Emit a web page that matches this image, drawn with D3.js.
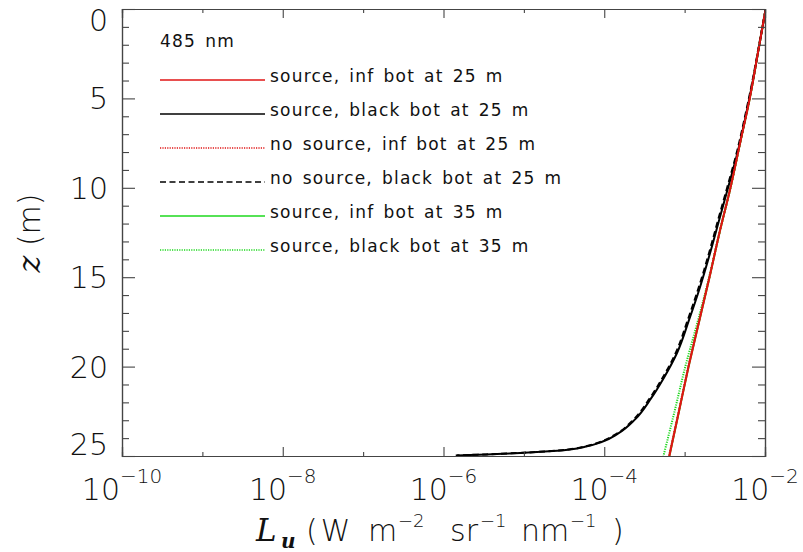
<!DOCTYPE html>
<html>
<head>
<meta charset="utf-8">
<script src="https://cdn.jsdelivr.net/npm/d3@7"></script>
<style>
  body { margin: 0; background: #fff; }
  svg { display: block; }
  .thin { font-family: "DejaVu Sans ExtraLight", "DejaVu Sans", sans-serif; font-weight: 200; fill: #111; }
</style>
</head>
<body>
<svg id="chart" width="803" height="552"></svg>
<script>
// Upwelling radiance profiles at 485 nm (depth in m, Lu in W m^-2 sr^-1 nm^-1)
const depthA = [0, 2.5, 5, 7.5, 10, 12.5, 15, 17.5, 20, 22.5, 25];
const srcInf25   = [1.02e-2, 8.13e-3, 6.46e-3, 4.90e-3, 3.72e-3, 2.72e-3, 2.04e-3, 1.51e-3, 1.12e-3, 8.51e-4, 6.46e-4];
const noSrcInf25 = [1.02e-2, 8.12e-3, 6.45e-3, 4.89e-3, 3.71e-3, 2.71e-3, 2.03e-3, 1.50e-3, 1.11e-3, 8.45e-4, 6.40e-4];
const srcInf35   = [1.02e-2, 8.13e-3, 6.46e-3, 4.90e-3, 3.72e-3, 2.72e-3, 2.04e-3, 1.51e-3, 1.12e-3, 8.51e-4, 6.46e-4];
const srcBlack35 = [1.02e-2, 8.13e-3, 6.46e-3, 4.90e-3, 3.72e-3, 2.72e-3, 2.02e-3, 1.45e-3, 1.02e-3, 7.50e-4, 5.45e-4];

const depthB = [0, 2, 4, 6, 8, 10, 11.8, 13.66, 15.53, 17.39, 19.24, 20.62, 21.78, 22.95, 23.75, 24.22,
                24.46, 24.63, 24.72, 24.78, 24.83, 24.87, 24.91, 24.94, 24.97];
const srcBlack25   = [1.02e-2, 8.51e-3, 7.08e-3, 5.75e-3, 4.57e-3, 3.47e-3, 2.69e-3, 2.07e-3, 1.56e-3, 1.135e-3,
                      8.04e-4, 5.53e-4, 3.82e-4, 2.42e-4, 1.48e-4, 9.25e-5, 6.10e-5, 3.75e-5, 2.30e-5, 1.46e-5,
                      8.95e-6, 5.50e-6, 3.48e-6, 2.14e-6, 1.47e-6];
const noSrcBlack25 = [1.02e-2, 8.45e-3, 7.00e-3, 5.65e-3, 4.47e-3, 3.38e-3, 2.61e-3, 2.01e-3, 1.51e-3, 1.095e-3,
                      7.75e-4, 5.33e-4, 3.68e-4, 2.33e-4, 1.43e-4, 8.90e-5, 5.90e-5, 3.62e-5, 2.22e-5, 1.41e-5,
                      8.65e-6, 5.32e-6, 3.37e-6, 2.07e-6, 1.42e-6];

const decadeTicks = [1e-10, 1e-9, 1e-8, 1e-7, 1e-6, 1e-5, 1e-4, 1e-3, 1e-2];
const labeledExponents = [-10, -8, -6, -4, -2];
const depthMajorTicks = [0, 5, 10, 15, 20, 25];
const depthMinorTicks = d3.range(0, 26).filter(d => d % 5 !== 0);

const wavelengthLabel = "485 nm";
const seriesLabels = [
  "source, inf bot at 25 m",
  "source, black bot at 25 m",
  "no source, inf bot at 25 m",
  "no source, black bot at 25 m",
  "source, inf bot at 35 m",
  "source, black bot at 35 m"
];

const RED = "#e01414", BLACK = "#000", GREEN = "#1ed81e";
const series = [
  { label: seriesLabels[0], depth: depthA, value: srcInf25,     color: RED,   dash: null },
  { label: seriesLabels[1], depth: depthB, value: srcBlack25,   color: BLACK, dash: null },
  { label: seriesLabels[2], depth: depthA, value: noSrcInf25,   color: RED,   dash: "1.2,1.2" },
  { label: seriesLabels[3], depth: depthB, value: noSrcBlack25, color: BLACK, dash: "6,3.5" },
  { label: seriesLabels[4], depth: depthA, value: srcInf35,     color: GREEN, dash: null },
  { label: seriesLabels[5], depth: depthA, value: srcBlack35,   color: GREEN, dash: "1.2,1.2" }
];

const plot = { left: 122, right: 765, top: 9, bottom: 456 };
const svg = d3.select("#chart");

const x = d3.scaleLog().domain([1e-10, 1e-2]).range([plot.left, plot.right]);
const y = d3.scaleLinear().domain([0, 25]).range([plot.top, plot.bottom]);

svg.append("defs").append("clipPath").attr("id", "plot-clip")
  .append("rect")
  .attr("x", plot.left).attr("y", plot.top)
  .attr("width", plot.right - plot.left).attr("height", plot.bottom - plot.top);

// Profiles: green ones first so the red and black ones lie on top
const drawOrder = [4, 5, 1, 3, 0, 2];
const line = d3.line().curve(d3.curveMonotoneY);
const curves = svg.append("g").attr("clip-path", "url(#plot-clip)");
drawOrder.forEach(i => {
  const s = series[i];
  const pts = s.depth.map((d, k) => [x(s.value[k]), y(d)]);
  curves.append("path")
    .attr("d", line(pts))
    .attr("fill", "none")
    .attr("stroke", s.color)
    .attr("stroke-width", 2)
    .attr("stroke-linejoin", "round")
    .attr("stroke-dasharray", s.dash);
});

// Frame with inward ticks on all four sides
const axisColor = "#444";
function styleAxis(g) {
  g.selectAll(".domain").attr("stroke", axisColor).attr("stroke-width", 1.2);
  g.selectAll(".tick line").attr("stroke", axisColor).attr("stroke-width", 1.1);
  g.selectAll(".tick text").remove();
}
const majorX = decadeTicks.filter(t => Math.round(Math.log10(t)) % 2 === 0);
const minorX = decadeTicks.filter(t => Math.round(Math.log10(t)) % 2 !== 0);

[[d3.axisBottom, plot.bottom], [d3.axisTop, plot.top]].forEach(([ax, pos]) => {
  svg.append("g").attr("transform", `translate(0,${pos})`)
    .call(ax(x).tickValues(majorX).tickSize(-9).tickFormat(""))
    .call(styleAxis);
  svg.append("g").attr("transform", `translate(0,${pos})`)
    .call(ax(x).tickValues(minorX).tickSize(-4).tickFormat(""))
    .call(styleAxis);
});
[[d3.axisLeft, plot.left], [d3.axisRight, plot.right]].forEach(([ax, pos]) => {
  svg.append("g").attr("transform", `translate(${pos},0)`)
    .call(ax(y).tickValues(depthMajorTicks).tickSize(-13).tickFormat(""))
    .call(styleAxis);
  svg.append("g").attr("transform", `translate(${pos},0)`)
    .call(ax(y).tickValues(depthMinorTicks).tickSize(-7).tickFormat(""))
    .call(styleAxis);
});

// X tick labels: powers of ten
labeledExponents.forEach(e => {
  const t = svg.append("text").attr("class", "thin")
    .attr("x", x(Math.pow(10, e))).attr("y", 500)
    .attr("text-anchor", "middle").attr("font-size", 30);
  t.append("tspan").text("10");
  t.append("tspan").attr("dy", -17).attr("font-size", 20).text("\u2212" + Math.abs(e));
});

// Y tick labels, held inside the frame at both ends
depthMajorTicks.forEach(d => {
  const cy = Math.max(plot.top + 11, Math.min(plot.bottom - 12, y(d)));
  svg.append("text").attr("class", "thin")
    .attr("x", 108).attr("y", cy + 11)
    .attr("text-anchor", "end").attr("font-size", 30)
    .text(d);
});

// X axis title
const titleY = 541;
const supSize = 18;
const xt = svg.append("text").attr("class", "thin").attr("y", titleY).attr("font-size", 30);
xt.append("tspan").attr("x", 256)
  .attr("font-family", "DejaVu Serif, serif").attr("font-style", "italic").attr("font-weight", 400)
  .attr("font-size", 31).text("L");
xt.append("tspan").attr("x", 281).attr("dy", 7)
  .attr("font-family", "DejaVu Serif, serif").attr("font-style", "italic").attr("font-weight", 700)
  .attr("font-size", 20).text("u");
xt.append("tspan").attr("x", 306).attr("dy", -7).attr("letter-spacing", 3).text("(W");
xt.append("tspan").attr("x", 368).text("m");
xt.append("tspan").attr("x", 398).attr("dy", -14).attr("font-size", supSize).text("\u22122");
xt.append("tspan").attr("x", 450).attr("dy", 14).text("sr");
xt.append("tspan").attr("x", 480).attr("dy", -14).attr("font-size", supSize).text("\u22121");
xt.append("tspan").attr("x", 521).attr("dy", 14).text("nm");
xt.append("tspan").attr("x", 570).attr("dy", -14).attr("font-size", supSize).text("\u22121");
xt.append("tspan").attr("x", 612).attr("dy", 14).text(")");

// Y axis title
const yt = svg.append("text").attr("class", "thin")
  .attr("transform", "translate(40,233) rotate(-90)")
  .attr("text-anchor", "middle").attr("font-size", 30);
yt.append("tspan")
  .attr("font-family", "DejaVu Serif, serif").attr("font-style", "italic").attr("font-weight", 400)
  .attr("font-size", 32).text("z");
yt.append("tspan").text(" (m)");

// Legend
const legend = svg.append("g")
  .attr("font-family", "DejaVu Sans, sans-serif")
  .attr("font-size", 17).attr("fill", "#111")
  .attr("letter-spacing", 1.2).attr("word-spacing", 2.5);
legend.append("text").attr("x", 160).attr("y", 47).text(wavelengthLabel);
const rowY = d3.scaleLinear().domain([0, 5]).range([80, 250]);
series.forEach((s, i) => {
  const ly = rowY(i);
  legend.append("line")
    .attr("x1", 160).attr("x2", 265).attr("y1", ly).attr("y2", ly)
    .attr("stroke", s.color).attr("stroke-width", 1.6)
    .attr("stroke-dasharray", s.dash);
  legend.append("text").attr("x", 270).attr("y", ly + 2).text(s.label);
});
</script>
</body>
</html>
